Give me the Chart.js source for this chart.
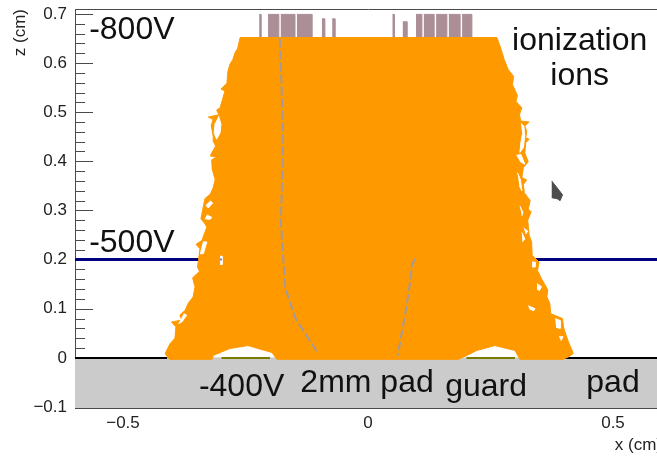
<!DOCTYPE html>
<html>
<head>
<meta charset="utf-8">
<title>ionization ions</title>
<script src="https://cdn.jsdelivr.net/npm/chart.js@4/dist/chart.umd.min.js"></script>
<style>
  html, body { margin:0; background:#fff; overflow:hidden; }
  canvas { position:absolute; left:0; top:0; }
</style>
</head>
<body>
<canvas id="chart" width="670" height="456"></canvas>
<script>
// axis ticks and labels
const xTicks = [-0.5, 0, 0.5];
const zMajor = [-0.1, 0, 0.1, 0.2, 0.3, 0.4, 0.5, 0.6, 0.7];
const zMinor = [-0.08, -0.06, -0.04, -0.02, 0.02, 0.04, 0.06, 0.08, 0.12, 0.14, 0.16, 0.18, 0.22, 0.24, 0.26, 0.28,
  0.32, 0.34, 0.36, 0.38, 0.42, 0.44, 0.46, 0.48, 0.52, 0.54, 0.56, 0.58, 0.62, 0.64, 0.66, 0.68];

// outline of the orange drift region
// left edge going up, right edge going down, then back along the pads
const cloudX = [-0.408, -0.414, -0.404, -0.394, -0.392, -0.401, -0.380, -0.384, -0.373, -0.367, -0.357, -0.353, -0.358,
  -0.344, -0.348, -0.346, -0.343, -0.351, -0.339, -0.329, -0.333, -0.341, -0.333, -0.322, -0.316, -0.312, -0.318, -0.319,
  -0.309, -0.322, -0.319, -0.311, -0.316, -0.316, -0.320, -0.316, -0.326, -0.304, -0.309, -0.302, -0.297, -0.292, -0.300,
  -0.288, -0.286, -0.282, -0.276, -0.271, -0.266, -0.261,
  0.263, 0.271, 0.278, 0.286, 0.297, 0.295, 0.305, 0.302, 0.314, 0.309, 0.312, 0.329, 0.320, 0.324, 0.322, 0.329, 0.322,
  0.320, 0.327, 0.317, 0.314, 0.324, 0.317, 0.319, 0.331, 0.327, 0.333, 0.326, 0.329, 0.334, 0.335, 0.349, 0.346, 0.354,
  0.360, 0.367, 0.365, 0.371, 0.373, 0.397, 0.399, 0.402, 0.409, 0.419, 0.409, 0.398, 0.310,
  0.300, 0.259, 0.222, 0.202, 0.184, -0.186, -0.196, -0.245, -0.282, -0.316, -0.318, -0.404, -0.408];
const cloudZ = [0.000, 0.009, 0.029, 0.040, 0.063, 0.073, 0.077, 0.087, 0.097, 0.111, 0.124, 0.144, 0.163,
  0.176, 0.185, 0.198, 0.222, 0.231, 0.239, 0.266, 0.273, 0.283, 0.324, 0.333, 0.346, 0.363, 0.384, 0.403,
  0.409, 0.411, 0.417, 0.431, 0.441, 0.451, 0.473, 0.485, 0.490, 0.495, 0.504, 0.509, 0.526, 0.543, 0.547,
  0.559, 0.583, 0.597, 0.607, 0.622, 0.630, 0.652,
  0.652, 0.630, 0.607, 0.587, 0.573, 0.556, 0.534, 0.522, 0.509, 0.495, 0.482, 0.480, 0.472, 0.461, 0.448, 0.445, 0.438,
  0.417, 0.399, 0.387, 0.367, 0.362, 0.353, 0.336, 0.320, 0.303, 0.297, 0.280, 0.249, 0.236, 0.209, 0.195, 0.178, 0.161,
  0.151, 0.138, 0.124, 0.111, 0.090, 0.080, 0.063, 0.053, 0.033, 0.009, 0.002, -0.003, -0.003,
  0.015, 0.025, 0.015, 0.005, -0.003, -0.003, 0.011, 0.025, 0.019, 0.005, -0.003, -0.003, 0.000];

// white gaps near the edge of the cloud
const gapXs = [
  [-0.305, -0.300, -0.302, -0.309, -0.314, -0.312],
  [-0.337, -0.329, -0.336, -0.343],
  [-0.322, -0.317, -0.326, -0.331],
  [-0.329, -0.319, -0.322, -0.333],
  [-0.376, -0.370, -0.380, -0.387],
  [-0.302, -0.298, -0.298, -0.302],
  [0.312, 0.318, 0.320, 0.317, 0.310, 0.312, 0.315],
  [0.303, 0.312, 0.320, 0.310],
  [0.305, 0.311, 0.314, 0.309],
  [0.314, 0.320, 0.315],
  [0.318, 0.326, 0.322],
  [0.335, 0.341, 0.341, 0.335],
  [0.345, 0.354, 0.350, 0.345],
  [0.327, 0.341, 0.338, 0.329],
  [0.382, 0.392, 0.392, 0.384],
  [0.390, 0.398, 0.394],
  [0.310, 0.316, 0.314]
];
const gapZs = [
  [0.492, 0.475, 0.458, 0.445, 0.458, 0.478],
  [0.236, 0.236, 0.212, 0.212],
  [0.320, 0.315, 0.305, 0.311],
  [0.291, 0.286, 0.282, 0.283],
  [0.090, 0.087, 0.073, 0.070],
  [0.207, 0.207, 0.190, 0.190],
  [0.477, 0.472, 0.452, 0.428, 0.418, 0.438, 0.455],
  [0.412, 0.414, 0.394, 0.400],
  [0.377, 0.363, 0.340, 0.350],
  [0.255, 0.242, 0.236],
  [0.264, 0.258, 0.252],
  [0.195, 0.195, 0.185, 0.185],
  [0.151, 0.145, 0.137, 0.140],
  [0.106, 0.100, 0.096, 0.100],
  [0.080, 0.076, 0.060, 0.062],
  [0.043, 0.043, 0.035],
  [0.309, 0.296, 0.289]
];

// grey tracks showing through the orange
const trackLeftX = [-0.180, -0.174, -0.174, -0.178, -0.169, -0.149, -0.102];
const trackLeftZ = [0.650, 0.481, 0.400, 0.278, 0.143, 0.082, 0.009];
const trackRightX = [0.096, 0.090, 0.084, 0.076, 0.067, 0.061];
const trackRightZ = [0.201, 0.191, 0.140, 0.090, 0.041, 0.005];

// mauve ion tracks above the cloud
const ionStart = [-0.222, -0.204, -0.178, -0.145, -0.094, -0.073, 0.050, 0.071, 0.098, 0.114, 0.139, 0.165, 0.192];
const ionEnd = [-0.218, -0.182, -0.149, -0.114, -0.088, -0.067, 0.054, 0.080, 0.110, 0.135, 0.161, 0.188, 0.212];
const ionTop = [0.699, 0.699, 0.699, 0.699, 0.690, 0.690, 0.699, 0.684, 0.699, 0.699, 0.699, 0.699, 0.699];

// electrodes
const driftPlaneX = [-0.598, 0.6];
const driftPlaneZ = [0.2, 0.2];
const driftSpotX = [-0.301, -0.299];
const padLeftX = [-0.598, -0.41];
const padRightX = [0.4, 0.6];
const guardLeftX = [-0.299, -0.2];
const guardRightX = [0.201, 0.3];
const padZ = [0, 0];
const substrateX = [-0.598, 0.6, 0.6, -0.598];
const substrateZ = [0, 0, -0.102, -0.102];

// the mouse pointer caught in the screenshot
const pointerX = [0.375, 0.397, 0.392, 0.386, 0.375];
const pointerZ = [0.360, 0.332, 0.320, 0.324, 0.326];

// annotations
const noteText = ['-800V', '-500V', 'ionization', 'ions', '-400V', '2mm pad', 'guard', 'pad'];
const noteX = [-0.482, -0.482, 0.432, 0.432, -0.258, -0.002, 0.241, 0.5];
const noteZ = [0.666, 0.234, 0.644, 0.574, -0.059, -0.051, -0.059, -0.051];

const INK = '#4a4a4a';
const FONT = '"Liberation Sans", Arial, sans-serif';

function pts(xs, zs){ return xs.map((x, i) => ({x, y: zs[i]})); }

function shape(xs, zs, color){
  return { data: pts(xs, zs), showLine:true, fill:'shape', backgroundColor:color, borderColor:color,
    borderWidth:1, pointRadius:0 };
}
function line(xs, zs, color, width, dash){
  return { data: pts(xs, zs), showLine:true, fill:false, borderColor:color, borderWidth:width,
    borderDash:dash || [], pointRadius:0 };
}

// first dataset ends up on top
const datasets = [
  shape(pointerX, pointerZ, '#4d4d4d'),
  line(driftSpotX, driftPlaneZ, '#000080', 2),
  line(trackLeftX, trackLeftZ, '#a39a9e', 2, [9, 3]),
  line(trackRightX, trackRightZ, '#a39a9e', 2, [9, 3])
];
gapXs.forEach((xs, i) => datasets.push(shape(xs, gapZs[i], '#ffffff')));
datasets.push(shape(cloudX, cloudZ, '#ff9900'));
ionStart.forEach((x0, i) => {
  datasets.push(shape([x0, ionEnd[i], ionEnd[i], x0], [0.65, 0.65, ionTop[i], ionTop[i]], '#ab8e96'));
});
datasets.push(line(driftPlaneX, driftPlaneZ, '#000080', 3));
datasets.push(line(guardLeftX, padZ, '#7b7b00', 2));
datasets.push(line(guardRightX, padZ, '#7b7b00', 2));
datasets.push(line(padLeftX, padZ, '#000000', 2));
datasets.push(line(padRightX, padZ, '#000000', 2));
datasets.push(shape(substrateX, substrateZ, '#cbcbcb'));

// ROOT style frame: top line and ticks that point into the plot
// drawn under the datasets, the substrate hides the ticks below zero
const frameTicks = {
  id: 'frameTicks',
  beforeDatasetsDraw(chart){
    const {ctx, chartArea:a, scales} = chart;
    ctx.save();
    ctx.strokeStyle = INK;
    ctx.lineWidth = 1;
    ctx.beginPath();
    ctx.moveTo(a.left, a.top + 0.5);
    ctx.lineTo(a.right, a.top + 0.5);
    zMajor.forEach(v => {
      const y = Math.round(scales.y.getPixelForValue(v)) + 0.5;
      ctx.moveTo(a.left, y); ctx.lineTo(a.left + 18, y);
    });
    zMinor.forEach(v => {
      const y = Math.round(scales.y.getPixelForValue(v)) + 0.5;
      ctx.moveTo(a.left, y); ctx.lineTo(a.left + 10, y);
    });
    ctx.stroke();
    ctx.restore();
  }
};

const notes = {
  id: 'notes',
  afterDraw(chart){
    const {ctx, scales} = chart;
    ctx.save();
    ctx.font = '32px ' + FONT;
    ctx.fillStyle = '#111111';
    ctx.textAlign = 'center';
    ctx.textBaseline = 'middle';
    noteText.forEach((t, i) => {
      ctx.fillText(t, scales.x.getPixelForValue(noteX[i]), scales.y.getPixelForValue(noteZ[i]));
    });
    ctx.restore();
  }
};

new Chart(document.getElementById('chart'), {
  type: 'scatter',
  data: { datasets },
  plugins: [frameTicks, notes],
  options: {
    responsive:false,
    animation:false,
    layout: { padding: { top:9, right:8, left:0, bottom:0 } },
    plugins: { legend:{display:false}, tooltip:{enabled:false}, title:{display:false} },
    scales: {
      x: {
        type:'linear', min:-0.598, max:0.6,
        afterBuildTicks(s){ s.ticks = xTicks.map(value => ({value})); },
        afterFit(s){ s.height = 48; s.paddingLeft = 0; s.paddingRight = 0; },
        grid:{ display:true, drawOnChartArea:false, drawTicks:false, color:'transparent' },
        border:{ display:true, color:INK, width:1 },
        ticks:{ color:'#222', font:{family:FONT, size:17}, padding:5, autoSkip:false, maxRotation:0,
          callback: v => v < 0 ? '\u2212' + Math.abs(v) : String(v) },
        title:{ display:true, text:'x (cm)', align:'end', color:'#222', font:{family:FONT, size:17}, padding:{top:6,bottom:0} }
      },
      y: {
        type:'linear', min:-0.102, max:0.71,
        afterBuildTicks(s){ s.ticks = zMajor.map(value => ({value})); },
        afterFit(s){ s.width = 75; s.paddingTop = 0; s.paddingBottom = 0; },
        grid:{ display:true, drawOnChartArea:false, drawTicks:false, color:'transparent' },
        border:{ display:true, color:INK, width:1 },
        ticks:{ color:'#222', font:{family:FONT, size:17}, padding:8, autoSkip:false,
          callback: v => v < 0 ? '\u2212' + Math.abs(v) : String(v) },
        title:{ display:true, text:'z (cm)', align:'end', color:'#222', font:{family:FONT, size:17}, padding:{top:10,bottom:0} }
      }
    }
  }
});
</script>
</body>
</html>
